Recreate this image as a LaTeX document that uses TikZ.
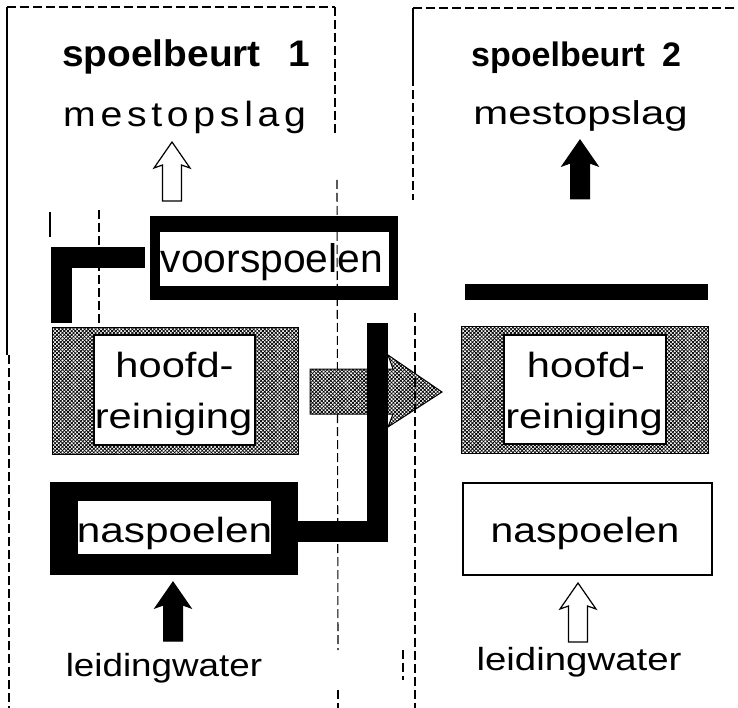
\documentclass[tikz,border=0pt]{standalone}
\usepackage{fontspec}
\setmainfont{Liberation Sans}
\usepackage{graphicx}
\usetikzlibrary{patterns.meta}

% horizontally widened text
\newcommand\wtxt[2]{\scalebox{#1}[1]{#2}}
\newcommand\fsz[1]{\fontsize{#1pt}{#1pt}\selectfont}

\begin{document}
\begin{tikzpicture}[x=1pt,y=-1pt,
  txt/.style={inner sep=0pt, anchor=base},
  frameline/.style={line width=1.1pt, dash pattern=on 9pt off 4pt},
  solidline/.style={line width=1.3pt},
  blackframe/.style={rectangle, fill=black, inner sep=0pt},
  whitebox/.style={rectangle, fill=white, inner sep=0pt},
  boxline/.style={rectangle, fill=white, draw=black, line width=1.2pt, inner sep=0pt},
  hatch/.style={fill=white, draw=black, line width=1pt,
    postaction={pattern={Lines[angle=45,distance=2.6pt,line width=0.75pt]}},
    postaction={pattern={Lines[angle=-45,distance=2.6pt,line width=0.75pt]}}},
  hatchbox/.style={rectangle, inner sep=0pt, hatch},
  flowbar/.style={draw=black, line width=21pt, line join=miter, line cap=butt},
  uparrow/.pic={\path[pic actions] (0,0) -- (-18,26) -- (-9.5,23) -- (-9.5,59)
      -- (9.5,59) -- (9.5,23) -- (18,26) -- cycle;},
  openarrow/.style={draw=black, fill=white, line width=1.2pt, line join=miter},
  fullarrow/.style={draw=black, fill=black, line width=1pt, line join=miter}
]
\useasboundingbox (0,0) rectangle (738,708);
\fill[white] (0,0) rectangle (738,708);

% ---- frame of the first rinse ----
\draw[solidline] (7,7) -- (7,355);
\draw[frameline] (7,7) -- (335,7);
\draw[frameline] (9,355) -- (9,708);
\draw[frameline] (335,7) -- (335,133);
\draw[frameline] (99,210) -- (99,325);
\draw[solidline] (50,212) -- (50,237);

% ---- frame of the second rinse ----
\draw[solidline] (413,8) -- (413,77);
\draw[frameline] (413,8) -- (738,8);
\draw[frameline] (413,77) -- (413,200);
\draw[frameline] (403,650) -- (403,680);

% ---- titles ----
\node[txt, anchor=base west, font=\fsz{37}\bfseries] (t1) at (62,67)
  {\wtxt{1.05}{spoelbeurt\hspace{26pt}1}};
\node[txt, anchor=base west, font=\fsz{34}\bfseries] (t2) at (471,67)
  {spoelbeurt\hspace{17pt}2};
\node[txt, anchor=base west, font=\fsz{35}\addfontfeature{LetterSpace=12}] (m1) at (63,127)
  {\wtxt{1.12}{mestopslag}};
\node[txt, font=\fsz{33}] (m2) at (580.5,125) {\wtxt{1.27}{mestopslag}};

% ---- first rinse: boxes ----
\node[blackframe, minimum width=248pt, minimum height=84pt] (voor) at (274,258) {};
\node[whitebox, minimum width=229pt, minimum height=54pt] (voorin) at (274.5,259) {};
\node[txt, font=\fsz{40}] (voortxt) at (272,273) {\wtxt{1.02}{voorspoelen}};

\node[hatchbox, minimum width=246pt, minimum height=127pt] (hoofdL) at (175,390.5) {};
\node[boxline, minimum width=161pt, minimum height=110pt] (hoofdLin) at (174.5,390) {};
\node[txt, font=\fsz{35}] (hoofdLa) at (174.5,377) {\wtxt{1.19}{hoofd-}};
\node[txt, font=\fsz{35}] (hoofdLb) at (173.5,428) {\wtxt{1.19}{reiniging}};

\node[blackframe, minimum width=248pt, minimum height=93pt] (nasL) at (174,528.5) {};
\node[whitebox, minimum width=193pt, minimum height=53pt] (nasLin) at (174.5,527.5) {};
\node[txt, font=\fsz{35}] (nasLt) at (174.5,542) {\wtxt{1.21}{naspoelen}};

\node[txt, font=\fsz{32}] (waterL) at (164,676) {\wtxt{1.15}{leidingwater}};

% ---- second rinse: boxes ----
\node[blackframe, minimum width=243pt, minimum height=16pt] (barR) at (586.5,292) {};

\node[hatchbox, minimum width=247pt, minimum height=127pt] (hoofdR) at (584.5,389.5) {};
\node[boxline, minimum width=162pt, minimum height=109pt] (hoofdRin) at (585,389.5) {};
\node[txt, font=\fsz{35}] (hoofdRa) at (586,377) {\wtxt{1.19}{hoofd-}};
\node[txt, font=\fsz{35}] (hoofdRb) at (584,428) {\wtxt{1.19}{reiniging}};

\node[boxline, minimum width=249pt, minimum height=92pt] (nasR) at (587.5,529) {};
\node[txt, font=\fsz{35}] (nasRt) at (585,542) {\wtxt{1.17}{naspoelen}};

\node[txt, font=\fsz{32}] (waterR) at (579,670) {\wtxt{1.2}{leidingwater}};

% ---- divider between the rinses ----
\draw[frameline] (337,180) -- (338,650);
\draw[frameline] (338,690) -- (338,708);

% ---- block arrows ----
\pic[openarrow] at (172,142) {uparrow};
\pic[fullarrow] at (580,140) {uparrow};
\pic[fullarrow] at (173,582) {uparrow};
\pic[openarrow] at (578,583) {uparrow};

% carried-over main wash
\path[hatch, line join=miter] (310,369) -- (393,369) -- (388,355) -- (442,392)
  -- (388,427) -- (393,414) -- (310,414) -- cycle;

% ---- water flow bars ----
\coordinate (topL) at (61.5,323);
\coordinate (topR) at (377.5,323);
\draw[flowbar] (topL) |- ([xshift=-5pt]voor.west);
\draw[flowbar] ([yshift=-3pt]nasL.east) -| (topR);

\draw[frameline] (415,313) -- (415,708);
\end{tikzpicture}
\end{document}
